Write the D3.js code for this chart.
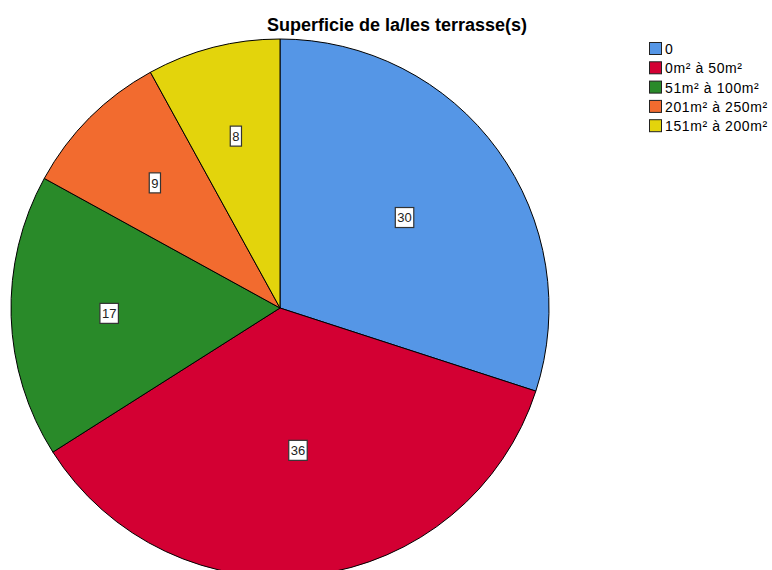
<!DOCTYPE html>
<html><head><meta charset="utf-8">
<script src="https://cdn.jsdelivr.net/npm/d3@7"></script>
<style>body{margin:0;background:#fff;}svg{display:block;font-family:Arial,"Liberation Sans",sans-serif;}</style>
</head><body>
<svg id="chart" width="772" height="570"></svg>
<script>
const title = "Superficie de la/les terrasse(s)";
const categories = ["0", "0m² à 50m²", "51m² à 100m²", "201m² à 250m²", "151m² à 200m²"];
const values = [30, 36, 17, 9, 8];
const colors = ["#5596e6", "#d30033", "#298a29", "#f26b2f", "#e3d40c"];

const svg = d3.select("#chart");
const cx = 280, cy = 308, R = 269;

svg.append("text").attr("x", 397).attr("y", 31).attr("text-anchor", "middle")
  .attr("font-size", 18).attr("font-weight", "bold").attr("fill", "#000").text(title);

const data = categories.map((c, i) => ({cat: c, value: values[i], color: colors[i]}));
const pie = d3.pie().value(d => d.value).sort(null);
const arc = d3.arc().innerRadius(0).outerRadius(R);
const arcs = pie(data);

const g = svg.append("g").attr("transform", `translate(${cx},${cy})`);
g.selectAll("path").data(arcs).join("path")
  .attr("d", arc).attr("fill", d => d.data.color)
  .attr("stroke", "#000").attr("stroke-width", 1).attr("stroke-linejoin", "round");

// labels at sector area centroid
const lbl = g.selectAll("g.lbl").data(arcs).join("g").attr("class", "lbl")
  .attr("transform", d => {
    const th = d.endAngle - d.startAngle;
    const mid = (d.startAngle + d.endAngle) / 2;
    const dist = 4 * R * Math.sin(th / 2) / (3 * th);
    return `translate(${dist * Math.sin(mid)},${-dist * Math.cos(mid)})`;
  });
lbl.each(function(d) {
  const sel = d3.select(this);
  const t = sel.append("text").attr("text-anchor", "middle").attr("dy", "0.36em")
    .attr("font-size", 13).attr("fill", "#222").text(d.data.value);
  const bb = t.node().getBBox();
  sel.insert("rect", "text")
    .attr("x", bb.x - 2).attr("y", -10).attr("width", bb.width + 4).attr("height", 20)
    .attr("fill", "#fff").attr("stroke", "#333").attr("stroke-width", 1.2);
});

// legend
const leg = svg.append("g").attr("transform", "translate(649,42)");
const items = leg.selectAll("g").data(data).join("g")
  .attr("transform", (d, i) => `translate(0,${i * 19.3})`);
items.append("rect").attr("x", 0.5).attr("y", 0.5).attr("width", 12).attr("height", 12)
  .attr("fill", d => d.color).attr("stroke", "#222").attr("stroke-width", 1);
items.append("text").attr("x", 16).attr("y", 7).attr("dy", "0.35em")
  .attr("font-size", 14).attr("letter-spacing", 0.6).attr("fill", "#000").text(d => d.cat);
</script>
</body></html>
